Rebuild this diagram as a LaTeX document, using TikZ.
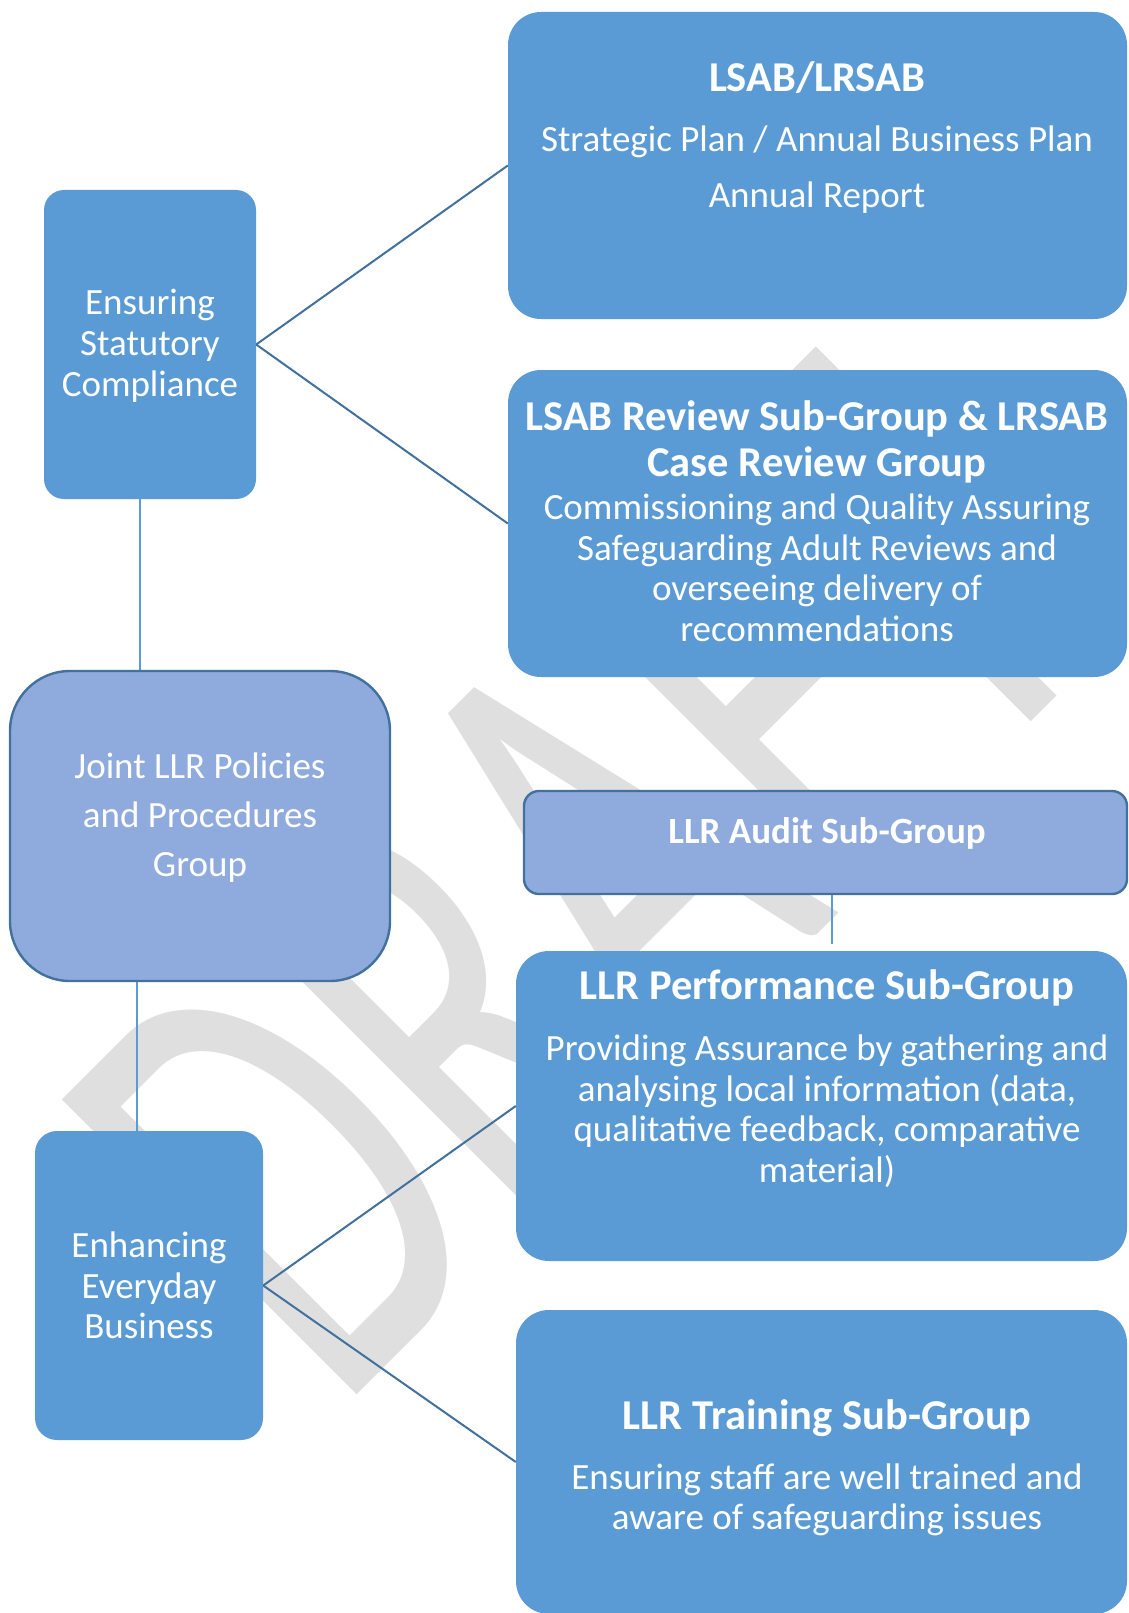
\documentclass[tikz,border=0pt]{standalone}
\usepackage{fontspec}
\setmainfont{Carlito}
\definecolor{boxblue}{RGB}{91,155,213}
\definecolor{lightbox}{RGB}{143,170,220}
\definecolor{edgeblue}{RGB}{65,113,156}
\definecolor{wmgrey}{RGB}{223,223,223}
\newcommand\mybody{\fontsize{37}{41}\selectfont}
\newcommand\mytitle{\fontsize{42.5}{48}\selectfont\bfseries}
\newcommand\mysmalltitle{\fontsize{37}{41}\selectfont\bfseries}
\tikzset{
  bluebox/.style={fill=boxblue, draw=none, inner sep=0},
  lightboxst/.style={fill=lightbox, draw=edgeblue, line width=2.4pt, inner sep=0},
  txt/.style={text=white, inner sep=0, anchor=base},
  darkline/.style={draw=edgeblue, line width=2pt},
  vline/.style={draw=boxblue, line width=1.3pt},
}
\begin{document}
\begin{tikzpicture}[x=1pt,y=-1pt]
\useasboundingbox[fill=white] (0,0) rectangle (1128,1613);
% watermark
\node[text=wmgrey, rotate=45, anchor=base west, inner sep=0] (wm) at (337,1415)
  {\fontsize{650}{650}\selectfont\scalebox{0.63}[1]{DRAFT}};
% boxes
\node[bluebox, rounded corners=20, minimum width=212, minimum height=309] (A) at (150,344.5) {};
\node[bluebox, rounded corners=33, minimum width=619, minimum height=307] (B) at (817.5,165.5) {};
\node[bluebox, rounded corners=33, minimum width=619, minimum height=307] (C) at (817.5,523.5) {};
\node[lightboxst, rounded corners=60, minimum width=380, minimum height=310] (D) at (200,826) {};
\node[lightboxst, rounded corners=15, minimum width=603, minimum height=103] (F) at (825.5,842.5) {};
\node[bluebox, rounded corners=33, minimum width=611, minimum height=310] (G) at (821.5,1106) {};
\node[bluebox, rounded corners=22, minimum width=228, minimum height=309] (E) at (149,1285.5) {};
\node[bluebox, rounded corners=33, minimum width=611, minimum height=304] (H) at (821.5,1462) {};
% connectors
\draw[darkline] (A.east) -- (B.west);
\draw[darkline] (A.east) -- (C.west);
\draw[vline] ([xshift=-10pt]A.south) -- ([xshift=-10pt]A.south |- D.north);
\draw[vline] ([xshift=-12pt]E.north |- D.south) -- ([xshift=-12pt]E.north);
\draw[darkline] (E.east) -- (G.west);
\draw[darkline] (E.east) -- (H.west);
\coordinate (fEnd) at (832,944);
\draw[vline] (F.south -| fEnd) -- (fEnd);
% texts A
\node[txt] (a1) at (150,314.5) {\mybody Ensuring};
\node[txt] (a2) at (150,355.5) {\mybody Statutory};
\node[txt] (a3) at (150,396.5) {\mybody Compliance};
% B
\node[txt] (b1) at (817,92) {\mytitle LSAB/LRSAB};
\node[txt] (b2) at (817,152) {\mybody Strategic Plan / Annual Business Plan};
\node[txt] (b3) at (817,208) {\mybody Annual Report};
% C
\node[txt] (c1) at (817,430) {\mytitle LSAB Review Sub-Group \& LRSAB};
\node[txt] (c2) at (817,476) {\mytitle Case Review Group};
\node[txt] (c3) at (817,519.5) {\mybody Commissioning and Quality Assuring};
\node[txt] (c4) at (817,560) {\mybody Safeguarding Adult Reviews and};
\node[txt] (c5) at (817,600.5) {\mybody overseeing delivery of};
\node[txt] (c6) at (817,641.5) {\mybody recommendations};
% D
\node[txt] (d1) at (200,778) {\mybody Joint LLR Policies};
\node[txt] (d2) at (200,827) {\mybody and Procedures};
\node[txt] (d3) at (200,876) {\mybody Group};
% F
\node[txt] (f1) at (827,843.5) {\mysmalltitle LLR Audit Sub-Group};
% G
\node[txt] (g1) at (827,999) {\mytitle LLR Performance Sub-Group};
\node[txt] (g2) at (827,1060) {\mybody Providing Assurance by gathering and};
\node[txt] (g3) at (827,1101.5) {\mybody analysing local information (data,};
\node[txt] (g4) at (827,1141.5) {\mybody qualitative feedback, comparative};
\node[txt] (g5) at (827,1182) {\mybody material)};
% E
\node[txt] (e1) at (149,1257) {\mybody Enhancing};
\node[txt] (e2) at (149,1298) {\mybody Everyday};
\node[txt] (e3) at (149,1338) {\mybody Business};
% H
\node[txt] (h1) at (827,1429) {\mytitle LLR Training Sub-Group};
\node[txt] (h2) at (827,1489) {\mybody Ensuring staff are well trained and};
\node[txt] (h3) at (827,1529.6) {\mybody aware of safeguarding issues};
\end{tikzpicture}
\end{document}
